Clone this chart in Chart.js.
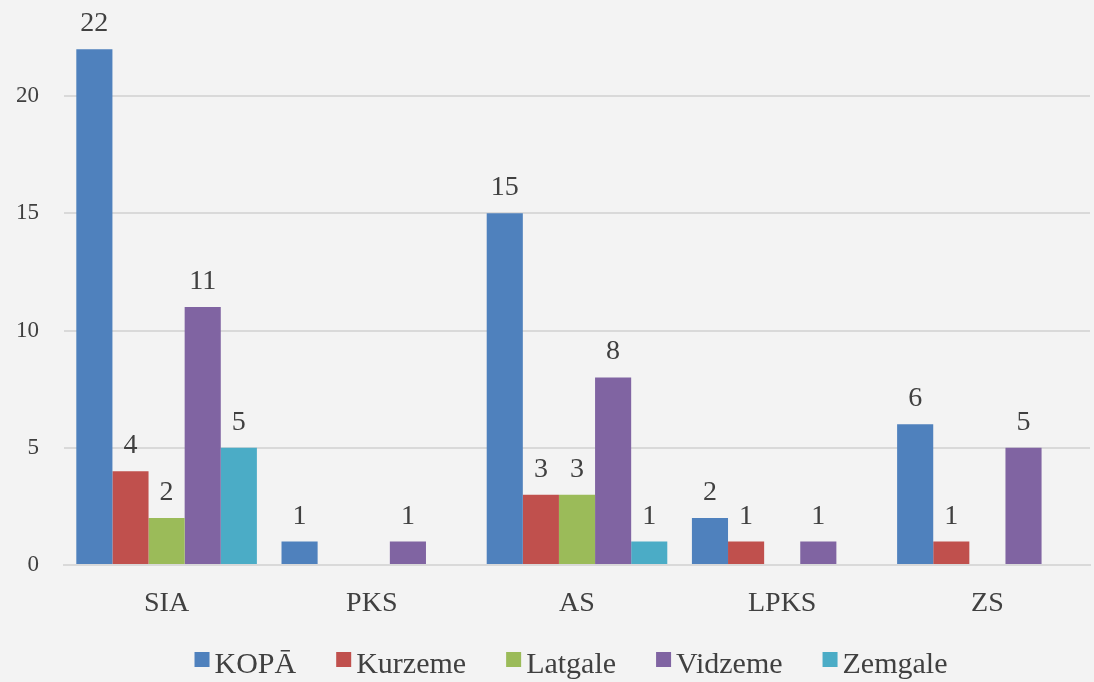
<!DOCTYPE html>
<html>
<head>
<meta charset="utf-8">
<script src="https://cdn.jsdelivr.net/npm/chart.js@4/dist/chart.umd.min.js"></script>
<style>
  html, body { margin: 0; padding: 0; background: #f3f3f3; }
  #wrap { width: 1094px; height: 682px; position: relative; }
</style>
</head>
<body>
<div id="wrap"><canvas id="c"></canvas></div>
<script>
// kategorijas un sērijas
const categories = ['SIA', 'PKS', 'AS', 'LPKS', 'ZS'];
const kopa     = [22, 1, 15, 2, 6];
const kurzeme  = [4, null, 3, 1, 1];
const latgale  = [2, null, 3, null, null];
const vidzeme  = [11, 1, 8, 1, 5];
const zemgale  = [5, null, 1, null, null];
const yTicks   = [0, 5, 10, 15, 20];

const FONT = '"Liberation Serif", "DejaVu Serif", serif';
const TEXT = '#404040';

// vērtības virs stabiņiem
const barLabels = {
  id: 'barLabels',
  afterDatasetsDraw(chart) {
    const { ctx } = chart;
    ctx.save();
    ctx.font = '28px ' + FONT;
    ctx.fillStyle = TEXT;
    ctx.textAlign = 'center';
    ctx.textBaseline = 'alphabetic';
    chart.data.datasets.forEach((ds, i) => {
      chart.getDatasetMeta(i).data.forEach((bar, j) => {
        const v = ds.data[j];
        if (v == null) return;
        ctx.fillText(String(v), bar.x, bar.y - 18);
      });
    });
    ctx.restore();
  }
};

// leģenda apakšā: kvadrātiņš tuvu tekstam, kā Excel
const bottomLegend = {
  id: 'bottomLegend',
  afterDraw(chart) {
    const { ctx } = chart;
    const dss = chart.data.datasets;
    const BOX = 15, GAP = 5, SEP = 40, BASE = 673, CX = 571;
    ctx.save();
    ctx.font = '30px ' + FONT;
    ctx.textBaseline = 'alphabetic';
    ctx.textAlign = 'left';
    const widths = dss.map(d => ctx.measureText(d.label).width);
    const total = widths.reduce((s, w) => s + w + BOX + GAP, 0) + SEP * (dss.length - 1);
    let x = CX - total / 2;
    dss.forEach((d, i) => {
      ctx.fillStyle = d.backgroundColor;
      ctx.fillRect(x, BASE - 21, BOX, BOX);
      ctx.fillStyle = TEXT;
      ctx.fillText(d.label, x + BOX + GAP, BASE);
      x += BOX + GAP + widths[i] + SEP;
    });
    ctx.restore();
  }
};

const mk = (label, data, color) => ({
  label, data, backgroundColor: color, borderWidth: 0,
  barPercentage: 1, categoryPercentage: 0.88
});

new Chart(document.getElementById('c'), {
  type: 'bar',
  data: {
    labels: categories,
    datasets: [
      mk('KOPĀ', kopa, '#4f81bd'),
      mk('Kurzeme', kurzeme, '#c0504d'),
      mk('Latgale', latgale, '#9bbb59'),
      mk('Vidzeme', vidzeme, '#8064a2'),
      mk('Zemgale', zemgale, '#4bacc6'),
    ],
  },
  options: {
    responsive: true, maintainAspectRatio: false, animation: false,
    layout: { padding: { left: 0, right: 4, top: 0, bottom: 51 } },
    plugins: {
      legend: { display: false },
      tooltip: { enabled: false },
    },
    scales: {
      x: {
        grid: { display: false },
        border: { color: '#d9d9d9', width: 2 },
        ticks: { color: TEXT, font: { family: FONT, size: 28 }, padding: 14 },
        afterFit: s => { s.height = 66; s.paddingTop = 0; s.paddingBottom = 0; }
      },
      y: {
        min: 0, max: 24.1,
        border: { display: false },
        grid: { color: '#d9d9d9', lineWidth: 2, drawTicks: false },
        afterBuildTicks: s => { s.ticks = yTicks.map(v => ({ value: v })); },
        ticks: { color: TEXT, font: { family: FONT, size: 23 }, padding: 25 },
        afterFit: s => { s.width = 64; s.paddingTop = 0; s.paddingBottom = 0; }
      }
    }
  },
  plugins: [barLabels, bottomLegend]
});
</script>
</body>
</html>
